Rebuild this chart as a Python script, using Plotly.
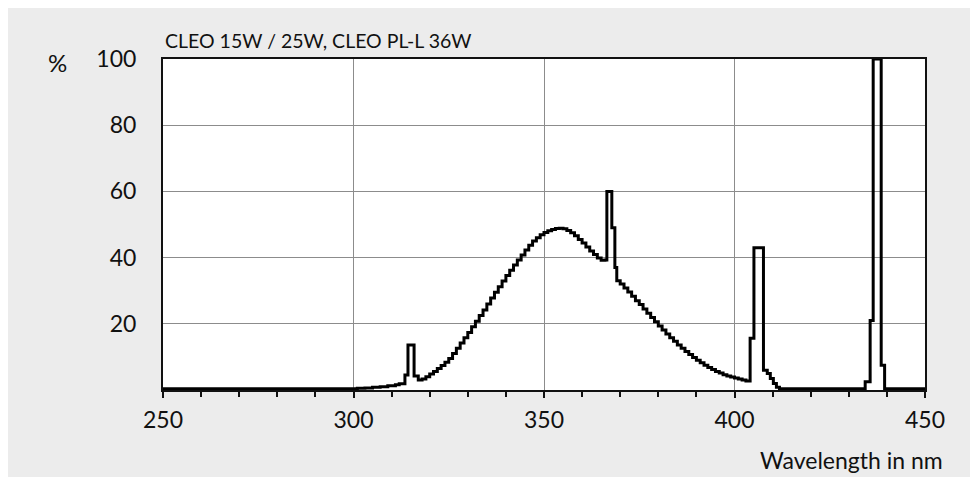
import plotly.graph_objects as go

title_text = "CLEO 15W / 25W, CLEO PL-L 36W"
x_axis_title = "Wavelength in nm"
y_unit = "%"
x_tick_vals = [250, 300, 350, 400, 450]
y_tick_vals = [20, 40, 60, 80, 100]

wavelength_nm = [
    250, 301, 303, 305, 307, 309, 311, 312, 313.5, 314.3, 315.9,
    317, 318, 319, 320, 321, 322, 323, 324, 325, 326, 327, 328, 329, 330,
    331, 332, 333, 334, 335, 336, 337, 338, 339, 340, 341, 342, 343, 344,
    345, 346, 347, 348, 349, 350, 351, 352, 353, 354, 355, 356, 357, 358,
    359, 360, 361, 362, 363, 364, 365, 366, 366.5, 367.8, 368.6, 369.1,
    370, 371, 372, 373, 374, 375, 376, 377, 378, 379, 380, 381, 382, 383,
    384, 385, 386, 387, 388, 389, 390, 391, 392, 393, 394, 395, 396, 397,
    398, 399, 400, 401, 402, 403, 404.1, 405.1, 407.6, 408.6, 409.4, 410.2,
    411, 411.8, 434.3, 435.6, 436.4, 438.5, 439.4, 450,
]
relative_power_pct = [
    0.4, 0.5, 0.6, 0.8, 1.0, 1.3, 1.6, 1.9, 4.5, 13.6, 4.2,
    3.0, 3.3, 4.0, 4.8, 5.6, 6.5, 7.4, 8.4, 9.5, 11.0, 12.6, 14.2, 15.8, 17.4,
    19.1, 20.8, 22.5, 24.2, 26.0, 27.8, 29.5, 31.2, 32.9, 34.6, 36.2, 37.8, 39.3, 40.8,
    42.3, 43.7, 45.0, 46.0, 46.9, 47.6, 48.1, 48.5, 48.8, 48.9, 48.7, 48.2, 47.5, 46.6,
    45.5, 44.4, 43.2, 42.0, 40.9, 39.9, 39.2, 39.3, 60.0, 49.0, 37.0, 33.0,
    32.0, 30.8, 29.6, 28.3, 27.0, 25.8, 24.5, 23.2, 21.9, 20.6, 19.3, 18.1, 16.9, 15.8,
    14.7, 13.6, 12.6, 11.6, 10.7, 9.8, 9.0, 8.2, 7.5, 6.8, 6.2, 5.6, 5.1, 4.6,
    4.2, 3.9, 3.6, 3.3, 3.0, 2.7, 15.6, 43.0, 6.0, 5.0, 3.5, 2.0,
    0.8, 0.4, 2.5, 21.0, 100.0, 7.5, 0.4, 0.4,
]

FONT = "Lato"
INK = "#111111"
GRID = "#8c8c8c"

fig = go.Figure()
fig.add_trace(go.Scatter(
    x=wavelength_nm, y=relative_power_pct, mode="lines",
    line=dict(color="#000000", width=3, shape="hv"),
    hoverinfo="skip", showlegend=False,
))

fig.update_layout(
    width=970, height=469,
    margin=dict(l=155, r=53, t=51, b=87),
    paper_bgcolor="#ececec",
    plot_bgcolor="#ffffff",
    font=dict(family=FONT, color=INK, size=22),
    showlegend=False,
    xaxis=dict(
        range=[250, 450], tickvals=x_tick_vals, ticktext=[str(v) for v in x_tick_vals],
        showgrid=True, gridcolor=GRID, gridwidth=1,
        ticks="outside", ticklen=6, tickwidth=1.5, tickcolor=INK,
        minor=dict(dtick=10, ticks="outside", ticklen=5, tickwidth=1.5, tickcolor=INK, showgrid=False),
        showline=True, linecolor=INK, linewidth=2, mirror=True,
        zeroline=False, ticklabelstandoff=2,
        tickfont=dict(family=FONT, size=23, color=INK),
    ),
    yaxis=dict(
        range=[0, 100], tickvals=y_tick_vals, ticktext=[str(v) for v in y_tick_vals],
        showgrid=True, gridcolor=GRID, gridwidth=1,
        ticks="", showline=True, linecolor=INK, linewidth=2, mirror=True,
        zeroline=False, ticklabelstandoff=20,
        tickfont=dict(family=FONT, size=23, color=INK),
    ),
    annotations=[
        dict(text=title_text, xref="paper", yref="paper", x=0.0, y=1.057,
             xanchor="left", yanchor="middle", showarrow=False,
             font=dict(family=FONT, size=19.5, color=INK)),
        dict(text=y_unit, xref="paper", yref="paper", x=-0.1378, y=0.99,
             xanchor="center", yanchor="middle", showarrow=False,
             font=dict(family=FONT, size=24, color=INK)),
        dict(text=x_axis_title, xref="paper", yref="paper", x=1.0262, y=-0.212,
             xanchor="right", yanchor="middle", showarrow=False,
             font=dict(family=FONT, size=23, color=INK)),
    ],
)

fig.write_html("out.html")
